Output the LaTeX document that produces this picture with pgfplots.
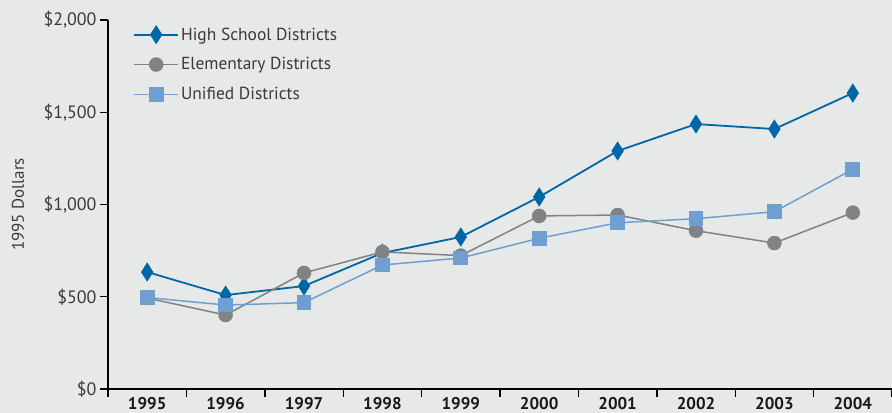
\documentclass[border=0pt]{standalone}
\usepackage{fontspec}
\setmainfont{PT Sans}
\usepackage{pgfplots}
\pgfplotsset{compat=1.18}
\definecolor{bg}{HTML}{E7E8E8}
\definecolor{hs}{HTML}{0066A6}
\definecolor{el}{HTML}{808285}
\definecolor{un}{HTML}{6E9FD0}
\definecolor{txt}{HTML}{3A3A3A}
\begin{document}
\begin{tikzpicture}
\fill[bg] (-108bp,-24bp) rectangle (784bp,389bp);
\begin{scope}
\clip (-108bp,-24bp) rectangle (784bp,389bp);
\begin{axis}[at={(0,0)}, anchor=south west, scale only axis,
  width=784bp, height=369bp,
  xmin=-0.5, xmax=9.5, ymin=0, ymax=2000,
  axis lines=left,
  axis line style={-, line width=1.6bp, black},
  tick align=outside, major tick length=8bp,
  tick style={black, line width=1.4bp},
  xtick={-0.5,0.5,...,9.5}, xticklabel=\empty,
  extra x ticks={0,1,...,9},
  extra x tick labels={1995,1996,1997,1998,1999,2000,2001,2002,2003,2004},
  extra x tick style={major tick length=0pt},
  x tick label style={font=\fontsize{17}{20}\selectfont\bfseries, text=black!90, yshift=-5bp},
  ytick={0,500,1000,1500,2000},
  yticklabels={\$0,\$500,{\$1,000},{\$1,500},{\$2,000}},
  y tick label style={font=\fontsize{18}{21}\selectfont, text=txt},
  ylabel={1995 Dollars},
  ylabel style={at={(axis description cs:-0.115,0.5)}, anchor=center, font=\fontsize{17}{20}\selectfont, text=txt},
  legend style={at={(axis description cs:0.032,0.985)}, anchor=north west, draw=none, fill=none,
    font=\fontsize{17.5}{21}\selectfont, text=txt, row sep=12bp, inner sep=0pt},
  legend cell align=left,
  legend image code/.code={\draw[mark repeat=2, mark phase=2, #1] plot coordinates {(0bp,0bp) (22bp,0bp) (44bp,0bp)};},
]
\addplot[hs, line width=1.8bp, mark=diamond*, mark size=8bp, mark options={xscale=0.85}] coordinates {
(0,634) (1,509) (2,558) (3,737) (4,824) (5,1041) (6,1290) (7,1436) (8,1409) (9,1604)};
\addlegendentry{High School Districts}
\addplot[el, line width=1.5bp, mark=*, mark size=6.5bp] coordinates {
(0,493) (1,401) (2,629) (3,743) (4,723) (5,938) (6,943) (7,858) (8,791) (9,956)};
\addlegendentry{Elementary Districts}
\addplot[un, line width=1.5bp, mark=square*, mark size=6.6bp] coordinates {
(0,496) (1,455) (2,468) (3,672) (4,710) (5,817) (6,901) (7,923) (8,961) (9,1191)};
\addlegendentry{Unified Districts}
\end{axis}
\end{scope}
\pgfresetboundingbox
\path[use as bounding box] (-108bp,-24bp) rectangle (784bp,389bp);
\end{tikzpicture}
\end{document}
